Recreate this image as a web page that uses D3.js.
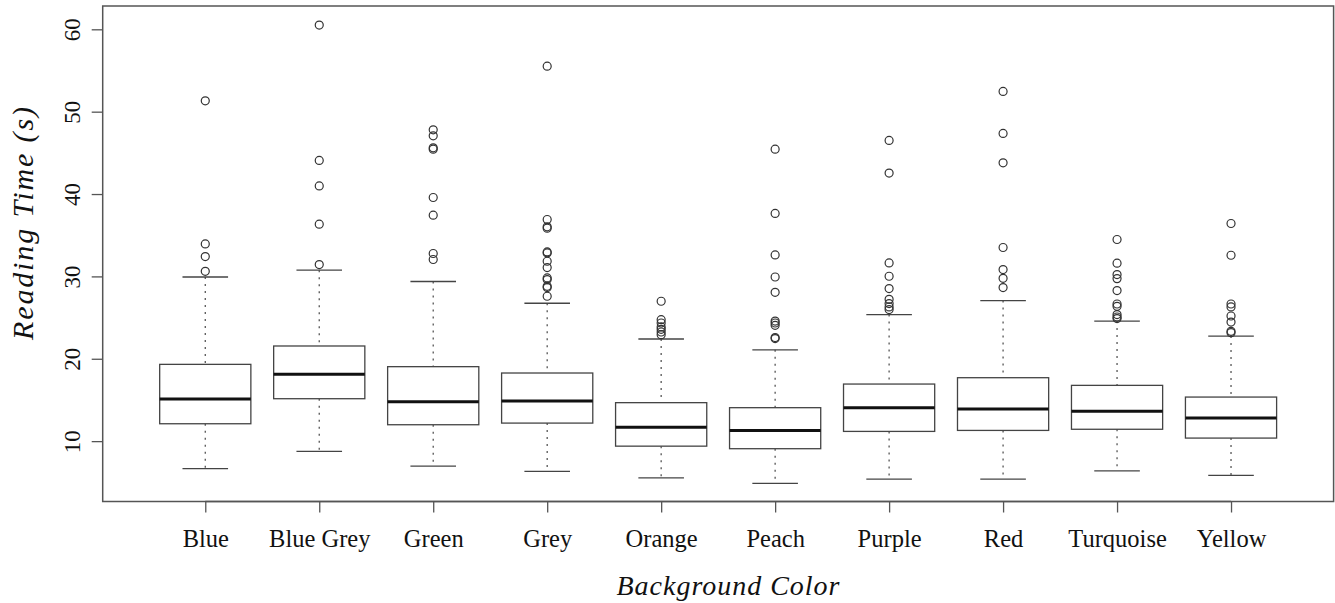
<!DOCTYPE html>
<html>
    <head>
        <title>reading_time_boxplot</title>
        <style>
            body { margin: 0; background: white; }
            text { font-family: "Liberation Serif", "DejaVu Serif", serif; fill: #111; }
        </style>
    </head>
    <script src="https://d3js.org/d3.v7.min.js"></script>
    <body>
        <svg id="container" width="1335" height="603">
            <g id="body"></g>
        </svg>
    </body>
    <script>
        // values (seconds)
        let colors = ["Blue", "Blue Grey", "Green", "Grey", "Orange", "Peach", "Purple", "Red", "Turquoise", "Yellow"]
        let lowWhisker  = [6.65, 8.75, 6.96, 6.32, 5.55, 4.86, 5.38, 5.38, 6.40, 5.83]
        let q1          = [12.11, 15.15, 11.99, 12.19, 9.39, 9.08, 11.18, 11.30, 11.44, 10.37]
        let medians     = [15.10, 18.11, 14.79, 14.86, 11.70, 11.30, 14.06, 13.89, 13.63, 12.80]
        let q3          = [19.32, 21.55, 19.04, 18.27, 14.67, 14.06, 16.93, 17.70, 16.77, 15.35]
        let highWhisker = [29.93, 30.75, 29.38, 26.74, 22.40, 21.08, 25.36, 27.06, 24.58, 22.76]
        let outliers = [
            [51.32, 33.94, 32.41, 30.62],
            [60.52, 44.08, 40.99, 36.34, 31.44],
            [47.80, 47.07, 45.61, 45.45, 39.58, 37.43, 32.78, 32.05],
            [55.52, 36.91, 36.02, 35.85, 32.97, 32.85, 31.84, 31.07, 29.81, 29.61, 28.80, 28.64, 27.59],
            [26.98, 24.75, 24.34, 23.86, 23.58, 23.25, 22.93],
            [45.45, 37.64, 32.61, 29.93, 28.07, 24.58, 24.34, 24.06, 22.57, 22.45],
            [46.51, 42.54, 31.63, 30.02, 28.52, 27.22, 26.70, 26.29, 25.97],
            [52.46, 47.36, 43.79, 33.51, 30.83, 29.77, 28.64],
            [34.48, 31.60, 30.22, 29.73, 28.28, 26.65, 26.37, 25.36, 25.07, 24.88],
            [36.42, 32.57, 26.65, 26.29, 25.19, 24.46, 23.33, 23.17]
        ]
        let yTicks = [10, 20, 30, 40, 50, 60]

        let body = d3.select('#body')

        let plotLeft = 102.7, plotRight = 1333.6, plotTop = 6, plotBottom = 501.5

        // R style: groups at 1..n, range padded by 4%
        let x = d3.scaleLinear()
            .domain([0.1, colors.length + 0.9])
            .range([plotLeft, plotRight])
        let y = d3.scaleLinear()
            .domain([2.67, 62.83])
            .range([plotBottom, plotTop])

        let unit = x(2) - x(1)
        let boxW = unit * 0.8
        let capW = boxW * 0.5

        let rows = colors.map((c, i) => ({
            name: c, pos: i + 1,
            lo: lowWhisker[i], q1: q1[i], med: medians[i], q3: q3[i], hi: highWhisker[i],
            out: outliers[i]
        }))

        let g = body.selectAll("g.box").data(rows)
            .enter().append("g")
            .attr("class", "box")

        // dotted whiskers
        g.append("line")
            .attr("x1", d => x(d.pos)).attr("x2", d => x(d.pos))
            .attr("y1", d => y(d.hi)).attr("y2", d => y(d.q3))
            .attr("stroke", "#555").attr("stroke-width", 1.3)
            .attr("stroke-dasharray", "2,5")
        g.append("line")
            .attr("x1", d => x(d.pos)).attr("x2", d => x(d.pos))
            .attr("y1", d => y(d.q1)).attr("y2", d => y(d.lo))
            .attr("stroke", "#555").attr("stroke-width", 1.3)
            .attr("stroke-dasharray", "2,5")

        // whisker caps
        g.selectAll("line.cap").data(d => [[d.pos, d.hi], [d.pos, d.lo]])
            .enter().append("line")
            .attr("class", "cap")
            .attr("x1", d => x(d[0]) - capW / 2).attr("x2", d => x(d[0]) + capW / 2)
            .attr("y1", d => y(d[1])).attr("y2", d => y(d[1]))
            .attr("stroke", "#444").attr("stroke-width", 1.3)

        // boxes
        g.append("rect")
            .attr("x", d => x(d.pos) - boxW / 2)
            .attr("width", boxW)
            .attr("y", d => y(d.q3))
            .attr("height", d => y(d.q1) - y(d.q3))
            .attr("fill", "white")
            .attr("stroke", "#444").attr("stroke-width", 1.3)

        // medians
        g.append("line")
            .attr("x1", d => x(d.pos) - boxW / 2).attr("x2", d => x(d.pos) + boxW / 2)
            .attr("y1", d => y(d.med)).attr("y2", d => y(d.med))
            .attr("stroke", "#111").attr("stroke-width", 3)

        // outliers
        g.selectAll("circle").data(d => d.out.map(v => [d.pos, v]))
            .enter().append("circle")
            .attr("cx", d => x(d[0]))
            .attr("cy", d => y(d[1]))
            .attr("r", 4)
            .attr("fill", "none")
            .attr("stroke", "#333").attr("stroke-width", 1.2)

        // frame
        body.append("rect")
            .attr("x", plotLeft).attr("y", plotTop)
            .attr("width", plotRight - plotLeft).attr("height", plotBottom - plotTop)
            .attr("fill", "none")
            .attr("stroke", "#555").attr("stroke-width", 1.5)

        // y axis
        let yAxis = body.append("g")
            .attr("transform", `translate(${plotLeft},0)`)
            .call(d3.axisLeft(y).tickValues(yTicks).tickSize(11).tickFormat(d3.format("d")))
        yAxis.select(".domain").remove()
        yAxis.selectAll(".tick line").attr("stroke", "#555").attr("stroke-width", 1.3)
        yAxis.selectAll(".tick text")
            .attr("x", null).attr("dy", null)
            .attr("transform", "translate(-23,0) rotate(-90)")
            .attr("text-anchor", "middle")
            .style("font-size", "23px")
            .style("font-family", "Liberation Serif")

        // x axis
        let xAxis = body.append("g")
            .attr("transform", `translate(0,${plotBottom})`)
            .call(d3.axisBottom(x).tickValues(rows.map(d => d.pos))
                .tickSize(11).tickSizeOuter(0)
                .tickFormat((d, i) => colors[i]))
        xAxis.select(".domain").attr("d", `M${x(1)},0H${x(colors.length)}`)
            .attr("stroke", "#555").attr("stroke-width", 1.3)
        xAxis.selectAll(".tick line").attr("stroke", "#555").attr("stroke-width", 1.3)
        xAxis.selectAll(".tick text")
            .attr("y", 45.5).attr("dy", null)
            .style("font-size", "24.5px")
            .style("font-family", "Liberation Serif")

        // axis titles
        body.append("text")
            .attr("x", 728)
            .attr("y", 595)
            .attr("text-anchor", "middle")
            .attr("textLength", 223)
            .attr("lengthAdjust", "spacing")
            .style("font-size", "28px")
            .style("font-style", "italic")
            .text("Background Color")

        body.append("text")
            .attr("transform", "translate(33,223.5) rotate(-90)")
            .attr("text-anchor", "middle")
            .attr("textLength", 233)
            .attr("lengthAdjust", "spacing")
            .style("font-size", "30px")
            .style("font-style", "italic")
            .text("Reading Time (s)")
    </script>
</html>
